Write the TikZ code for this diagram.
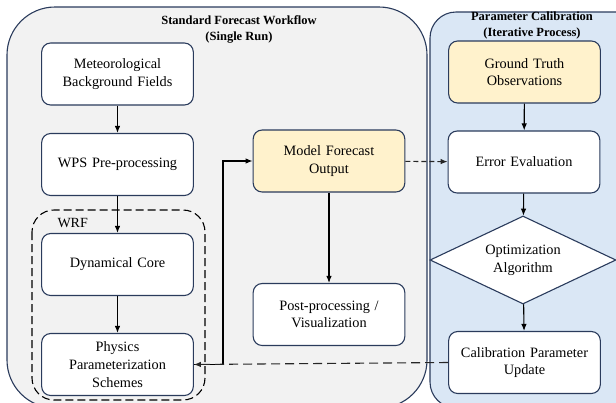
\documentclass[tikz,border=0pt]{standalone}
\usepackage{fontspec}
\setmainfont{Liberation Serif}
\usetikzlibrary{shapes.geometric,arrows.meta}
\definecolor{paneline}{HTML}{2A3B5C}
\definecolor{panegray}{HTML}{F2F2F2}
\definecolor{paneblue}{HTML}{DAE7F5}
\definecolor{outyellow}{HTML}{FFF2CC}
\tikzset{
  stagebox/.style={draw=paneline, line width=1.1pt, rounded corners=9pt, fill=white,
    minimum width=151pt, minimum height=62pt, align=center, text width=145pt,
    font=\rmfamily\fontsize{14.3}{17.7}\selectfont},
  panetitle/.style={align=center, font=\rmfamily\bfseries\fontsize{12.5}{16}\selectfont},
  flow/.style={-{Latex[length=7pt,width=5.5pt]}, line width=1.1pt},
  dashflow/.style={flow, draw=black!85, dash pattern=on 9pt off 5pt},
}
\begin{document}
\begin{tikzpicture}[x=1pt,y=-1pt]
\useasboundingbox (0,0) rectangle (616,402);
\clip (0,0) rectangle (616,402);
\draw[draw=paneline, line width=1.1pt, fill=panegray, rounded corners=48pt] (7,7) rectangle (427,408);
\draw[draw=paneline, line width=1.1pt, fill=paneblue, rounded corners=26pt] (430,12) rectangle (660,408);
\node[panetitle] (sfwtitle) at (239,29) {Standard Forecast Workflow\\(Single Run)};
\node[panetitle] (pctitle) at (532,25) {Parameter Calibration\\(Iterative Process)};
\draw[line width=1.1pt, dash pattern=on 8pt off 4pt, rounded corners=22pt] (32,210) rectangle (205,400);
\node[anchor=west, font=\rmfamily\fontsize{14}{17}\selectfont] (wrf) at (54,223) {WRF};

\node[stagebox] (met) at (117.5,74) {Meteorological\\Background Fields};
\node[stagebox] (wps) at (117.5,164.5) {WPS Pre-processing};
\node[stagebox] (dyn) at (117.5,264.5) {Dynamical Core};
\node[stagebox] (phys) at (117.5,364.5) {Physics\\Parameterization\\Schemes};
\node[stagebox, fill=outyellow] (model) at (329,161) {Model Forecast\\Output};
\node[stagebox] (post) at (329,314.5) {Post-processing /\\Visualization};
\node[stagebox, fill=outyellow] (truth) at (524.5,72) {Ground Truth\\Observations};
\node[stagebox] (error) at (524,162) {Error Evaluation};
\node[draw=paneline, line width=1.1pt, fill=white, diamond, aspect=2.1, inner sep=0pt,
  minimum width=186pt, minimum height=88pt, align=center, text width=100pt,
  font=\rmfamily\fontsize{14.3}{17.7}\selectfont] (opt) at (523,260) {Optimization\\Algorithm};
\node[stagebox] (calib) at (524.5,362.5) {Calibration Parameter\\Update};

\coordinate (riser) at (223,161);
\draw[flow] (met) -- (wps);
\draw[flow] (wps) -- (dyn);
\draw[flow] (dyn) -- (phys);
\draw[flow] (model) -- (post);
\draw[flow] (truth) -- (error);
\draw[flow] (error) -- (opt);
\draw[flow] (opt) -- (calib);
\draw[flow] (phys.east) -| (riser) -- (model.west);
\draw[dashflow, dash pattern=on 5pt off 3pt] (model) -- (error);
\draw[dashflow] (calib.west) -- (phys.east);
\end{tikzpicture}
\end{document}
